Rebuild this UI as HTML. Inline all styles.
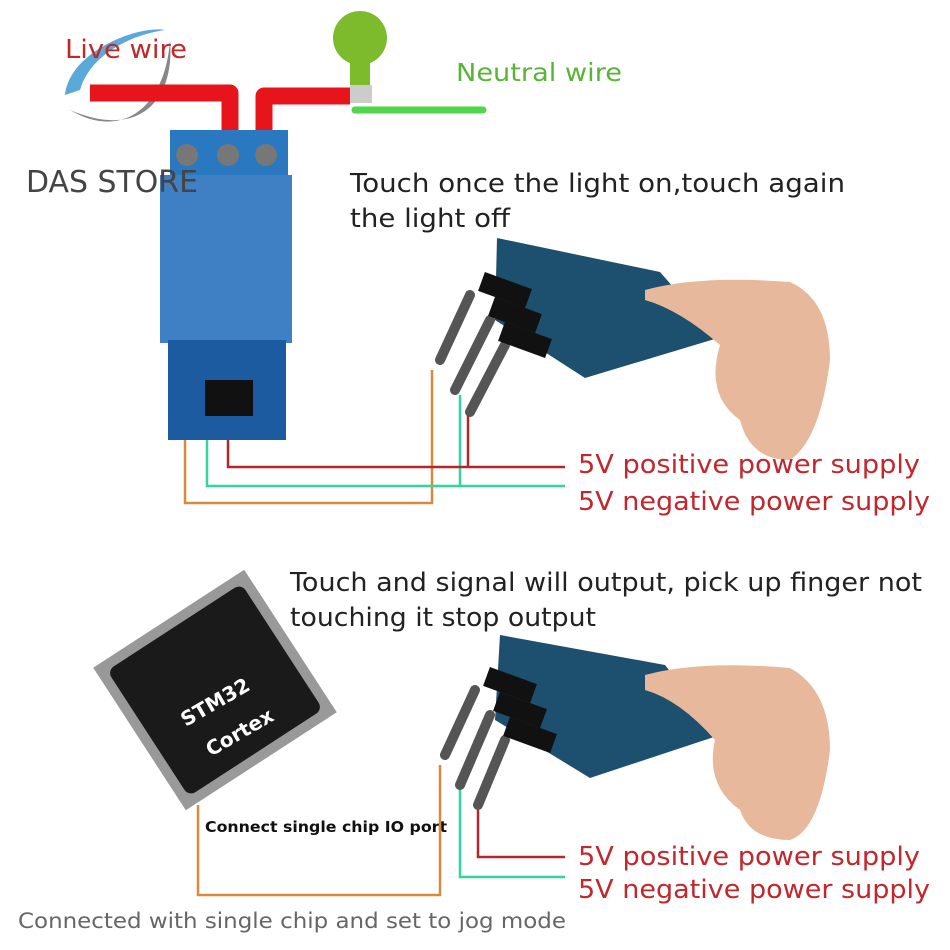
<!DOCTYPE html>
<html><head><style>
html,body{margin:0;padding:0;background:#fff;width:950px;height:950px;overflow:hidden}
svg{display:block}
text{font-family:"DejaVu Sans","Liberation Sans",sans-serif}
</style></head><body>
<svg width="950" height="950" viewBox="0 0 950 950" xmlns="http://www.w3.org/2000/svg">
<rect width="950" height="950" fill="#fff"/>
<path d="M65,95 C70,50 140,25 165,30 C130,35 90,55 80,90 Z" fill="#5aa9d8"/>
<path d="M70,110 C120,140 165,110 170,40 C175,100 140,140 70,110 Z" fill="#888"/>
<text x="65" y="58" font-size="26" fill="#c0282a" textLength="122" lengthAdjust="spacingAndGlyphs">Live wire</text>
<path d="M90,93 H230 V150" fill="none" stroke="#e8141c" stroke-width="17" stroke-linejoin="round"/>
<path d="M264,150 V96 H350" fill="none" stroke="#e8141c" stroke-width="17" stroke-linejoin="round"/>
<circle cx="360" cy="38" r="27" fill="#7dba2c"/>
<rect x="350" y="62" width="20" height="36" fill="#7dba2c"/>
<rect x="350" y="85" width="22" height="18" fill="#ccc"/>
<line x1="355" y1="110" x2="483" y2="110" stroke="#4fd64a" stroke-width="7" stroke-linecap="round"/>
<text x="456" y="81" font-size="25" fill="#5ab537" textLength="166" lengthAdjust="spacingAndGlyphs">Neutral wire</text>
<rect x="170" y="130" width="118" height="45" fill="#2a78c0"/>
<circle cx="187" cy="155" r="11" fill="#777"/><circle cx="228" cy="155" r="11" fill="#777"/><circle cx="266" cy="155" r="11" fill="#777"/>
<rect x="160" y="175" width="132" height="168" fill="#3f7fc3"/>
<rect x="168" y="340" width="118" height="100" fill="#1d5ba0"/>
<rect x="205" y="380" width="48" height="36" fill="#111"/>
<text x="26" y="192" font-size="30" fill="#444" textLength="172" lengthAdjust="spacingAndGlyphs">DAS STORE</text>
<text x="350" y="192" font-size="26" fill="#222" textLength="495" lengthAdjust="spacingAndGlyphs">Touch once the light on,touch again</text>
<text x="350" y="227" font-size="26" fill="#222" textLength="160" lengthAdjust="spacingAndGlyphs">the light off</text>
<polygon points="497,238 660,272 718,338 585,378 495,320" fill="#1d4f6e"/>
<path d="M470,295 L440,360 M490,320 L455,390 M505,345 L470,412" stroke="#555" stroke-width="10" stroke-linecap="round"/>
<rect x="480" y="280" width="50" height="20" fill="#111" transform="rotate(20 505 290)"/>
<rect x="490" y="305" width="50" height="20" fill="#111" transform="rotate(20 515 315)"/>
<rect x="500" y="330" width="50" height="20" fill="#111" transform="rotate(20 525 340)"/>
<path d="M645,290 Q700,275 790,282 Q830,300 830,360 Q820,440 790,460 Q750,460 740,420 Q705,395 720,345 Q680,310 645,300 Z" fill="#e7b89b"/>
<path d="M185,440 V503 H432 V370" fill="none" stroke="#d98a3c" stroke-width="2.5"/>
<path d="M207,440 V486 H460 V395" fill="none" stroke="#36d49a" stroke-width="2.5"/>
<path d="M228,440 V467 H565" fill="none" stroke="#b3262b" stroke-width="2.5"/>
<path d="M468,467 V415" fill="none" stroke="#b3262b" stroke-width="2.5"/>
<path d="M460,486 H565" fill="none" stroke="#36d49a" stroke-width="2.5"/>
<text x="578" y="473" font-size="26" fill="#c1272d" textLength="342" lengthAdjust="spacingAndGlyphs">5V positive power supply</text>
<text x="578" y="510" font-size="26" fill="#c1272d" textLength="352" lengthAdjust="spacingAndGlyphs">5V negative power supply</text>
<g transform="rotate(-33 215 690)">
<rect x="125" y="605" width="180" height="170" fill="#999"/>
<rect x="135" y="615" width="160" height="150" rx="8" fill="#1a1a1a"/>
</g>
<text x="178" y="712" font-size="20" font-weight="bold" fill="#fff" transform="rotate(-30 210 705)">STM32</text>
<text x="205" y="745" font-size="20" font-weight="bold" fill="#fff" transform="rotate(-30 230 740)">Cortex</text>
<text x="290" y="591" font-size="26" fill="#222" textLength="632" lengthAdjust="spacingAndGlyphs">Touch and signal will output, pick up finger not</text>
<text x="290" y="626" font-size="26" fill="#222" textLength="306" lengthAdjust="spacingAndGlyphs">touching it stop output</text>
<polygon points="500,635 665,665 720,735 590,778 495,720" fill="#1d4f6e"/>
<path d="M475,690 L445,755 M490,715 L460,785 M505,740 L478,805" stroke="#555" stroke-width="10" stroke-linecap="round"/>
<rect x="485" y="675" width="50" height="20" fill="#111" transform="rotate(20 510 685)"/>
<rect x="495" y="700" width="50" height="20" fill="#111" transform="rotate(20 520 710)"/>
<rect x="505" y="725" width="50" height="20" fill="#111" transform="rotate(20 530 735)"/>
<path d="M645,675 Q700,660 790,668 Q830,690 830,750 Q820,830 790,840 Q750,840 740,810 Q705,785 715,740 Q680,700 645,690 Z" fill="#e7b89b"/>
<text x="205" y="832" font-size="15" font-weight="bold" font-family="Liberation Serif" fill="#111" textLength="242" lengthAdjust="spacingAndGlyphs">Connect single chip IO port</text>
<path d="M198,805 V895 H440 V765" fill="none" stroke="#d98a3c" stroke-width="2.5"/>
<path d="M460,790 V877 H565" fill="none" stroke="#36d49a" stroke-width="2.5"/>
<path d="M478,810 V857 H565" fill="none" stroke="#b3262b" stroke-width="2.5"/>
<text x="578" y="865" font-size="26" fill="#c1272d" textLength="342" lengthAdjust="spacingAndGlyphs">5V positive power supply</text>
<text x="578" y="898" font-size="26" fill="#c1272d" textLength="352" lengthAdjust="spacingAndGlyphs">5V negative power supply</text>
<text x="18" y="928" font-size="21" fill="#666" textLength="548" lengthAdjust="spacingAndGlyphs">Connected with single chip and set to jog mode</text>
</svg>
</body></html>
